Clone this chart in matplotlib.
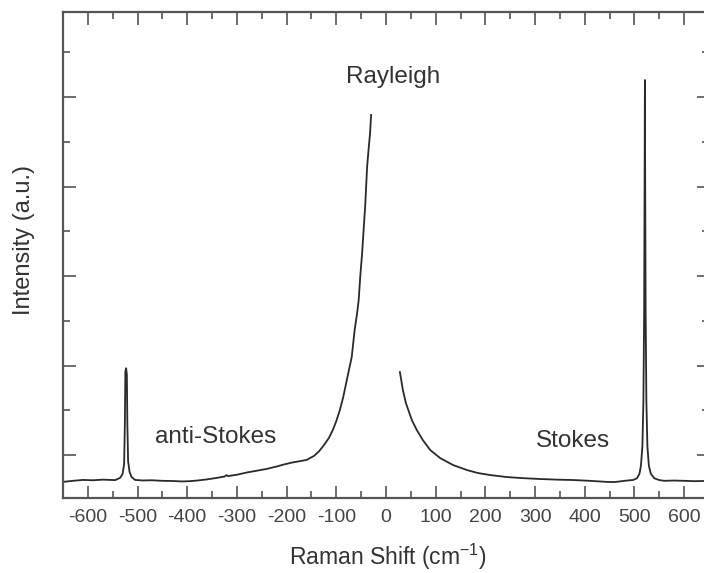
import matplotlib
matplotlib.use("Agg")
import matplotlib.pyplot as plt
from matplotlib.ticker import MultipleLocator

plt.rcParams['font.family'] = ['Liberation Sans', 'DejaVu Sans']
plt.rcParams['axes.unicode_minus'] = False

# Raman shift (cm^-1) and intensity (a.u.)
# anti-Stokes side + left wing of Rayleigh line
shift_left = [-650, -630, -610, -590, -570, -555, -545, -535, -530, -527, -525.5,
              -524.5, -523, -521.5, -520.5, -519, -516, -512, -505, -490, -470,
              -450, -430, -410, -395, -380, -360, -340, -325, -321, -318, -300,
              -280, -260, -240, -220, -205, -190, -175, -160, -145, -135, -125,
              -115, -107, -100, -93, -86, -78, -69, -63, -58, -55, -52, -48, -45,
              -42, -38, -35, -32, -30]
int_left = [700, 712, 722, 718, 725, 722, 720, 745, 790, 900, 1350,
            1930, 1970, 1900, 1350, 930, 810, 755, 722, 716, 718,
            712, 710, 705, 708, 715, 728, 745, 760, 775, 765, 780,
            805, 825, 845, 872, 895, 915, 930, 945, 990, 1040, 1110,
            1190, 1280, 1380, 1500, 1650, 1860, 2095, 2400, 2590, 2730, 2980, 3260, 3520,
            3770, 4220, 4420, 4600, 4800]

# right wing of Rayleigh line + Stokes side
shift_right = [28, 34, 40, 52, 62, 74, 89, 109, 135, 163, 185, 209, 243, 275,
               310, 345, 376, 410, 444, 460, 480, 497, 505, 510, 513, 516, 518,
               519.5, 520.5, 521, 521.5, 522.5, 524, 526, 529, 533, 540, 550,
               560, 580, 600, 620, 640, 650]
int_right = [1927, 1726, 1581, 1391, 1279, 1168, 1056, 966, 888, 832, 799, 777,
             754, 742, 732, 725, 721, 712, 700, 698, 712, 721, 740, 790, 880,
             1100, 1600, 2600, 4200, 5190, 4200, 2600, 1600, 1100, 880, 790, 740,
             720, 712, 715, 712, 708, 710, 710]

x_ticks = [-600, -500, -400, -300, -200, -100, 0, 100, 200, 300, 400, 500, 600]
annotations = [("Rayleigh", 14, 5223), ("anti-Stokes", -342, 1201), ("Stokes", 376, 1156)]

W, H = 704, 573
fig = plt.figure(figsize=(W / 100, H / 100), dpi=100)
ax = fig.add_axes([63 / W, 75 / H, 646 / W, 486 / H])

line_c = '#2a2a2a'
ax.plot(shift_left, int_left, color=line_c, lw=1.3)
ax.plot(shift_right, int_right, color=line_c, lw=1.3)

ax.set_xlim(-650, 650)
ax.set_ylim(520, 5950)

ax.set_xticks(x_ticks)
ax.set_xticklabels([str(t) for t in x_ticks])
ax.xaxis.set_minor_locator(MultipleLocator(50))
ax.yaxis.set_major_locator(MultipleLocator(1000))
ax.yaxis.set_minor_locator(MultipleLocator(500))

ax.tick_params(which='both', direction='in', top=True, right=True, color='#555555', width=1.2)
ax.tick_params(which='major', length=9)
ax.tick_params(which='minor', length=5)
ax.tick_params(axis='x', which='major', labelsize=14, labelcolor='#444444', pad=8)
ax.tick_params(axis='y', which='both', labelleft=False)

for s in ax.spines.values():
    s.set_color('#555555')
    s.set_linewidth(1.6)

ax.set_xlabel('Raman Shift (cm$^{\\mathregular{-1}}$)', fontsize=16.5, color='#333333', va='center')
ax.xaxis.set_label_coords(0.503, -0.121)
ax.set_ylabel('Intensity (a.u.)', fontsize=17, color='#333333', va='center')
ax.yaxis.set_label_coords(-0.06, 0.531)

for txt, xx, yy in annotations:
    ax.text(xx, yy, txt, fontsize=17.5, color='#333333', ha='center', va='center')

fig.savefig('out.png', dpi=100)
